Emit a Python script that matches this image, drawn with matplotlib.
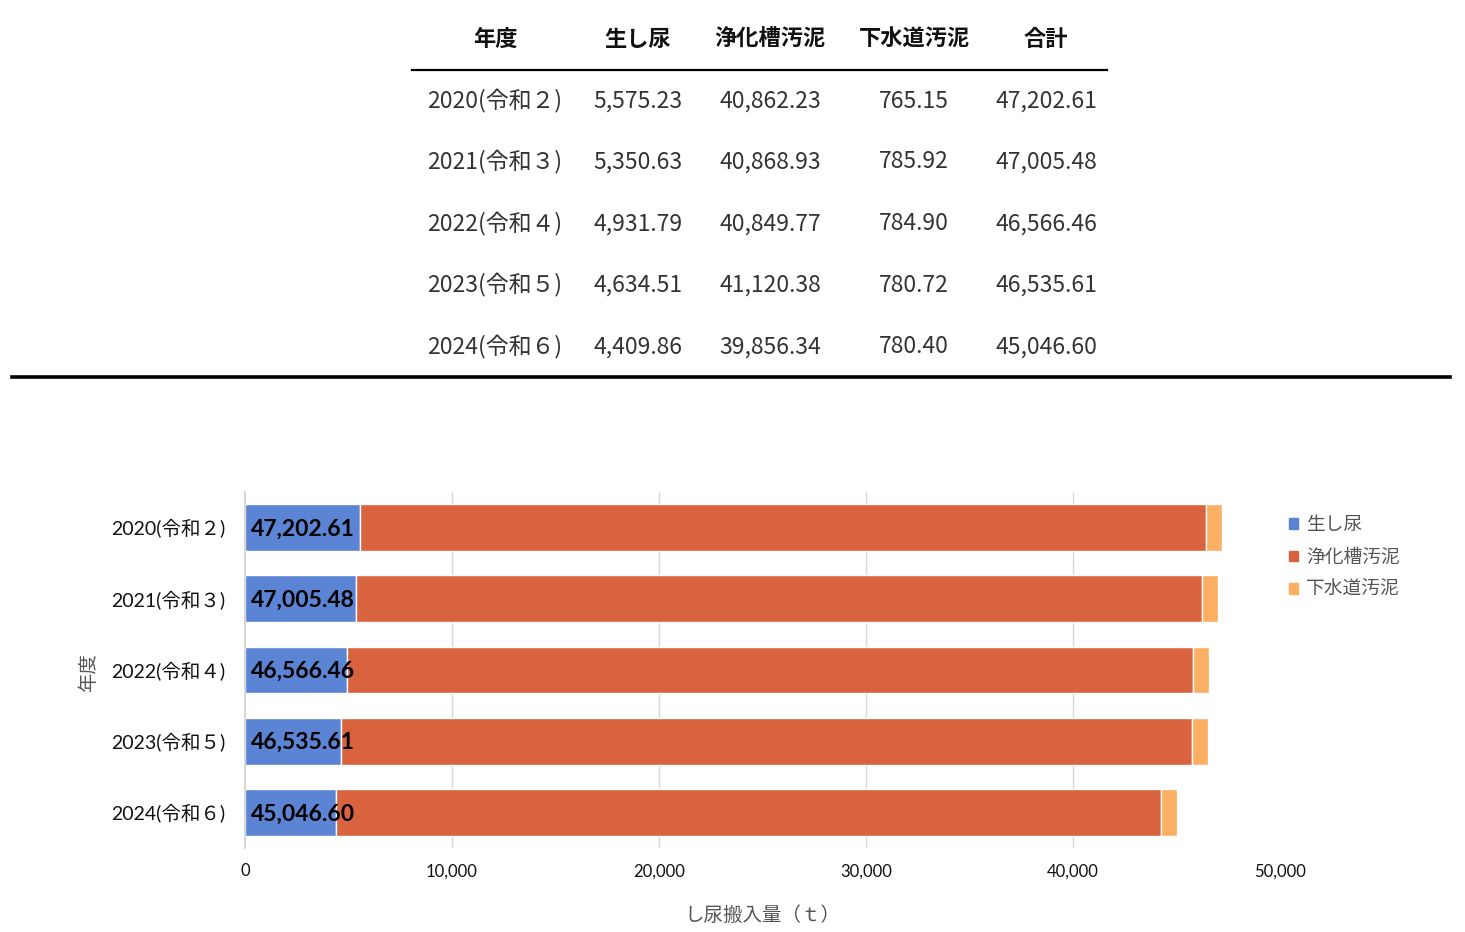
import matplotlib
matplotlib.use("Agg")
import matplotlib.pyplot as plt
from matplotlib.patches import Patch

years = ["2020(令和２)", "2021(令和３)", "2022(令和４)", "2023(令和５)", "2024(令和６)"]
raw = [5575.23, 5350.63, 4931.79, 4634.51, 4409.86]
septic = [40862.23, 40868.93, 40849.77, 41120.38, 39856.34]
sewer = [765.15, 785.92, 784.90, 780.72, 780.40]
total = [47202.61, 47005.48, 46566.46, 46535.61, 45046.60]
headers = ["年度", "生し尿", "浄化槽汚泥", "下水道汚泥", "合計"]
series_names = ["生し尿", "浄化槽汚泥", "下水道汚泥"]
xticks = [0, 10000, 20000, 30000, 40000, 50000]

colors = ["#5B84D4", "#D9633F", "#FBAF62"]
JP = ["Lato", "Noto Sans CJK JP"]
TBL = ["Noto Sans CJK JP", "DejaVu Sans"]

W, H = 1465, 932
fig = plt.figure(figsize=(W / 100, H / 100), dpi=100)

def fx(px):
    return px / W

def fy(py):
    return 1 - py / H

# ---- table ----
col_x = [495, 638, 770, 914, 1046]
for cx, h in zip(col_x, headers):
    fig.text(fx(cx), fy(39), h, ha="center", va="center", fontsize=16,
             fontweight="bold", family=TBL, color="#111111")
fig.add_artist(plt.Line2D([fx(412), fx(1107)], [fy(70), fy(70)], color="black", lw=1.6))
row_y = [101, 162, 224, 285, 347]
for i, ry in enumerate(row_y):
    vals = [years[i], f"{raw[i]:,.2f}", f"{septic[i]:,.2f}", f"{sewer[i]:,.2f}", f"{total[i]:,.2f}"]
    for cx, v in zip(col_x, vals):
        fig.text(fx(cx), fy(ry), v, ha="center", va="center", fontsize=16.5,
                 family=TBL, color="#333333")
fig.add_artist(plt.Line2D([fx(12), fx(1450)], [fy(377), fy(377)], color="black", lw=2.6))

# ---- chart ----
ax = fig.add_axes([fx(245), fy(848), fx(1280) - fx(245), (848 - 492) / H])
ypos = list(range(len(years)))
left1 = raw
left2 = [a + b for a, b in zip(raw, septic)]
ax.barh(ypos, raw, height=0.66, color=colors[0], edgecolor="white", lw=1, label=series_names[0])
ax.barh(ypos, septic, left=left1, height=0.66, color=colors[1], edgecolor="white", lw=1, label=series_names[1])
ax.barh(ypos, sewer, left=left2, height=0.66, color=colors[2], edgecolor="white", lw=1, label=series_names[2])

for i, t in enumerate(total):
    ax.annotate(f"{t:,.2f}", xy=(0, i), xytext=(4, -1), textcoords="offset points",
                ha="left", va="center", fontsize=16.5, fontweight="bold",
                family=JP, color="black")

ax.set_xlim(0, 50000)
ax.set_ylim(len(years) - 0.5, -0.5)
ax.set_xticks(xticks)
ax.set_xticklabels([f"{v:,}" for v in xticks], family=JP, fontsize=12, color="#111111")
ax.set_yticks(ypos)
ax.set_yticklabels(years, family=JP, fontsize=14, color="#111111")
ax.tick_params(axis="both", length=0)
ax.tick_params(axis="x", pad=11)
ax.tick_params(axis="y", pad=14)
for xv in xticks[1:-1]:
    ax.axvline(xv, color="#D9D9D9", lw=1, zorder=0)
for s in ["top", "right", "bottom"]:
    ax.spines[s].set_visible(False)
ax.spines["left"].set_color("#D0D0D0")
ax.spines["left"].set_linewidth(1.2)

ax.set_xlabel("し尿搬入量（ｔ）", family=JP, fontsize=14, color="#555555", labelpad=19)
fig.text(fx(88), fy(672), "年度", rotation=90, ha="center", va="center",
         family=JP, fontsize=14, color="#555555")

handles = [Patch(color=c) for c in colors]
leg = fig.legend(handles, series_names, loc="upper left", bbox_to_anchor=(fx(1272), fy(499)),
                 frameon=False, prop={"family": JP, "size": 13.5}, handlelength=0.5,
                 handleheight=0.5, handletextpad=0.4, labelspacing=0.82)
for t in leg.get_texts():
    t.set_color("#555555")

fig.savefig("out.png", dpi=100)
